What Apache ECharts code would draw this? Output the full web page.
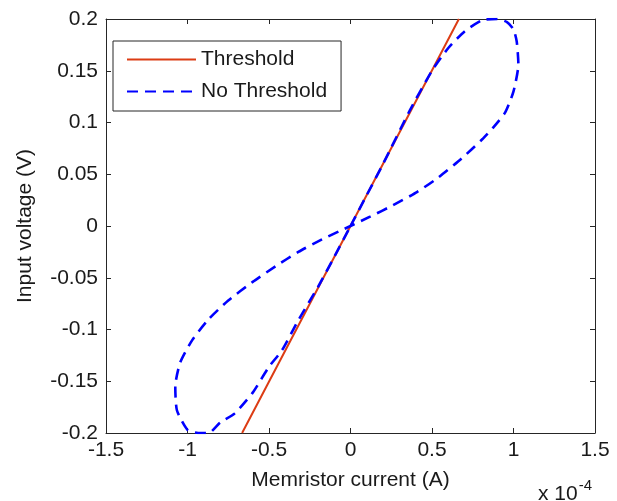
<!DOCTYPE html>
<html>
<head>
<meta charset="utf-8">
<script src="https://cdn.jsdelivr.net/npm/echarts@6/dist/echarts.min.js"></script>
<style>
  html, body { margin: 0; padding: 0; background: #fff; }
  #main { width: 617px; height: 501px; }
</style>
</head>
<body>
<div id="main"></div>
<script>
// current in units of 1e-4 A, voltage in V
const xTicks = [-1.5, -1, -0.5, 0, 0.5, 1, 1.5]
const yTicks = [-0.2, -0.15, -0.1, -0.05, 0, 0.05, 0.1, 0.15, 0.2]

// Threshold model: straight line through the origin
const thresholdX = [-0.665, 0, 0.665]
const thresholdY = [-0.2, 0, 0.2]

// No Threshold model: pinched hysteresis loop
const loopX = [
  0, 0.1, 0.2, 0.365, 0.5, 0.6, 0.7, 0.81, 0.9, 0.96, 1.0, 1.02, 1.03, 1.0, 0.95, 0.875, 0.81, 0.68, 0.54, 0.41, 0.26, 0.12,
  0, -0.175, -0.32, -0.46, -0.6, -0.75, -0.87, -0.97, -1.045, -1.075, -1.065, -1.0, -0.935, -0.87, -0.8, -0.71, -0.6, -0.5, -0.42, -0.32, -0.2, -0.1, 0
]
const loopY = [
  0, 0.03, 0.06, 0.112, 0.15, 0.172, 0.188, 0.199, 0.2, 0.197, 0.19, 0.178, 0.156, 0.13, 0.11, 0.095, 0.084, 0.065, 0.047, 0.033, 0.02, 0.009,
  0, -0.013, -0.025, -0.039, -0.054, -0.072, -0.09, -0.11, -0.132, -0.155, -0.178, -0.197, -0.2, -0.2, -0.19, -0.181, -0.161, -0.136, -0.12, -0.091, -0.059, -0.03, 0
]

const zip = (xs, ys) => xs.map((x, i) => [x, ys[i]])
const fmt = v => String(Math.round(v * 100) / 100)

const FONT = 'Liberation Sans'
const AXIS = '#262626'
const TEXT = '#1a1a1a'

const chart = echarts.init(document.getElementById('main'), null, { renderer: 'canvas' })

// MATLAB style: ticks pointing into the box
const tickStyle = { show: true, inside: true, length: 5, lineStyle: { color: AXIS } }
const lineStyle = { show: true, onZero: false, lineStyle: { color: AXIS } }

const option = {
  animation: false,
  backgroundColor: '#fff',
  textStyle: { fontFamily: FONT },
  grid: { left: 106, right: 22, top: 19, bottom: 68 },
  legend: {
    orient: 'vertical',
    left: 113,
    top: 41,
    padding: [8, 14, 9, 13],
    itemWidth: 69,
    itemHeight: 14,
    itemGap: 11,
    backgroundColor: '#fff',
    borderColor: AXIS,
    borderWidth: 1,
    itemStyle: { opacity: 0 },
    textStyle: { fontFamily: FONT, fontSize: 21, color: TEXT },
    data: ['Threshold', 'No Threshold']
  },
  xAxis: [
    {
      type: 'value',
      min: xTicks[0],
      max: xTicks[xTicks.length - 1],
      interval: 0.5,
      axisLine: lineStyle,
      axisTick: tickStyle,
      splitLine: { show: false },
      axisLabel: { formatter: fmt, fontFamily: FONT, fontSize: 21, color: TEXT, margin: 7 },
      name: 'Memristor current (A)',
      nameLocation: 'middle',
      nameGap: 37,
      nameTextStyle: { fontFamily: FONT, fontSize: 21, color: TEXT }
    },
    {
      type: 'value',
      position: 'top',
      min: xTicks[0],
      max: xTicks[xTicks.length - 1],
      interval: 0.5,
      axisLine: lineStyle,
      axisTick: tickStyle,
      axisLabel: { show: false },
      splitLine: { show: false }
    }
  ],
  yAxis: [
    {
      type: 'value',
      min: yTicks[0],
      max: yTicks[yTicks.length - 1],
      interval: 0.05,
      axisLine: lineStyle,
      axisTick: tickStyle,
      splitLine: { show: false },
      axisLabel: { formatter: fmt, fontFamily: FONT, fontSize: 21, color: TEXT, margin: 8 },
      name: 'Input voltage (V)',
      nameLocation: 'middle',
      nameRotate: 90,
      nameGap: 70,
      nameTextStyle: { fontFamily: FONT, fontSize: 21, color: TEXT }
    },
    {
      type: 'value',
      position: 'right',
      min: yTicks[0],
      max: yTicks[yTicks.length - 1],
      interval: 0.05,
      axisLine: lineStyle,
      axisTick: tickStyle,
      axisLabel: { show: false },
      splitLine: { show: false }
    }
  ],
  graphic: [
    {
      type: 'text',
      left: 538,
      top: 478,
      style: {
        text: '{b|x 10}{s|-4}',
        rich: {
          b: { fontFamily: FONT, fontSize: 21, fill: TEXT, padding: [6, 0, 0, 0] },
          s: { fontFamily: FONT, fontSize: 15, fill: TEXT, verticalAlign: 'top', padding: [0, 0, 8, 1] }
        }
      }
    }
  ],
  series: [
    {
      name: 'Threshold',
      type: 'line',
      data: zip(thresholdX, thresholdY),
      symbol: 'none',
      clip: true,
      lineStyle: { color: '#dc3c14', width: 2 },
      itemStyle: { color: '#dc3c14' },
      z: 2
    },
    {
      name: 'No Threshold',
      type: 'line',
      data: zip(loopX, loopY),
      symbol: 'none',
      smooth: 0.2,
      clip: true,
      lineStyle: { color: '#0000ff', width: 2.6, type: [11, 7] },
      itemStyle: { color: '#0000ff' },
      z: 3
    }
  ]
}

chart.setOption(option)
</script>
</body>
</html>
